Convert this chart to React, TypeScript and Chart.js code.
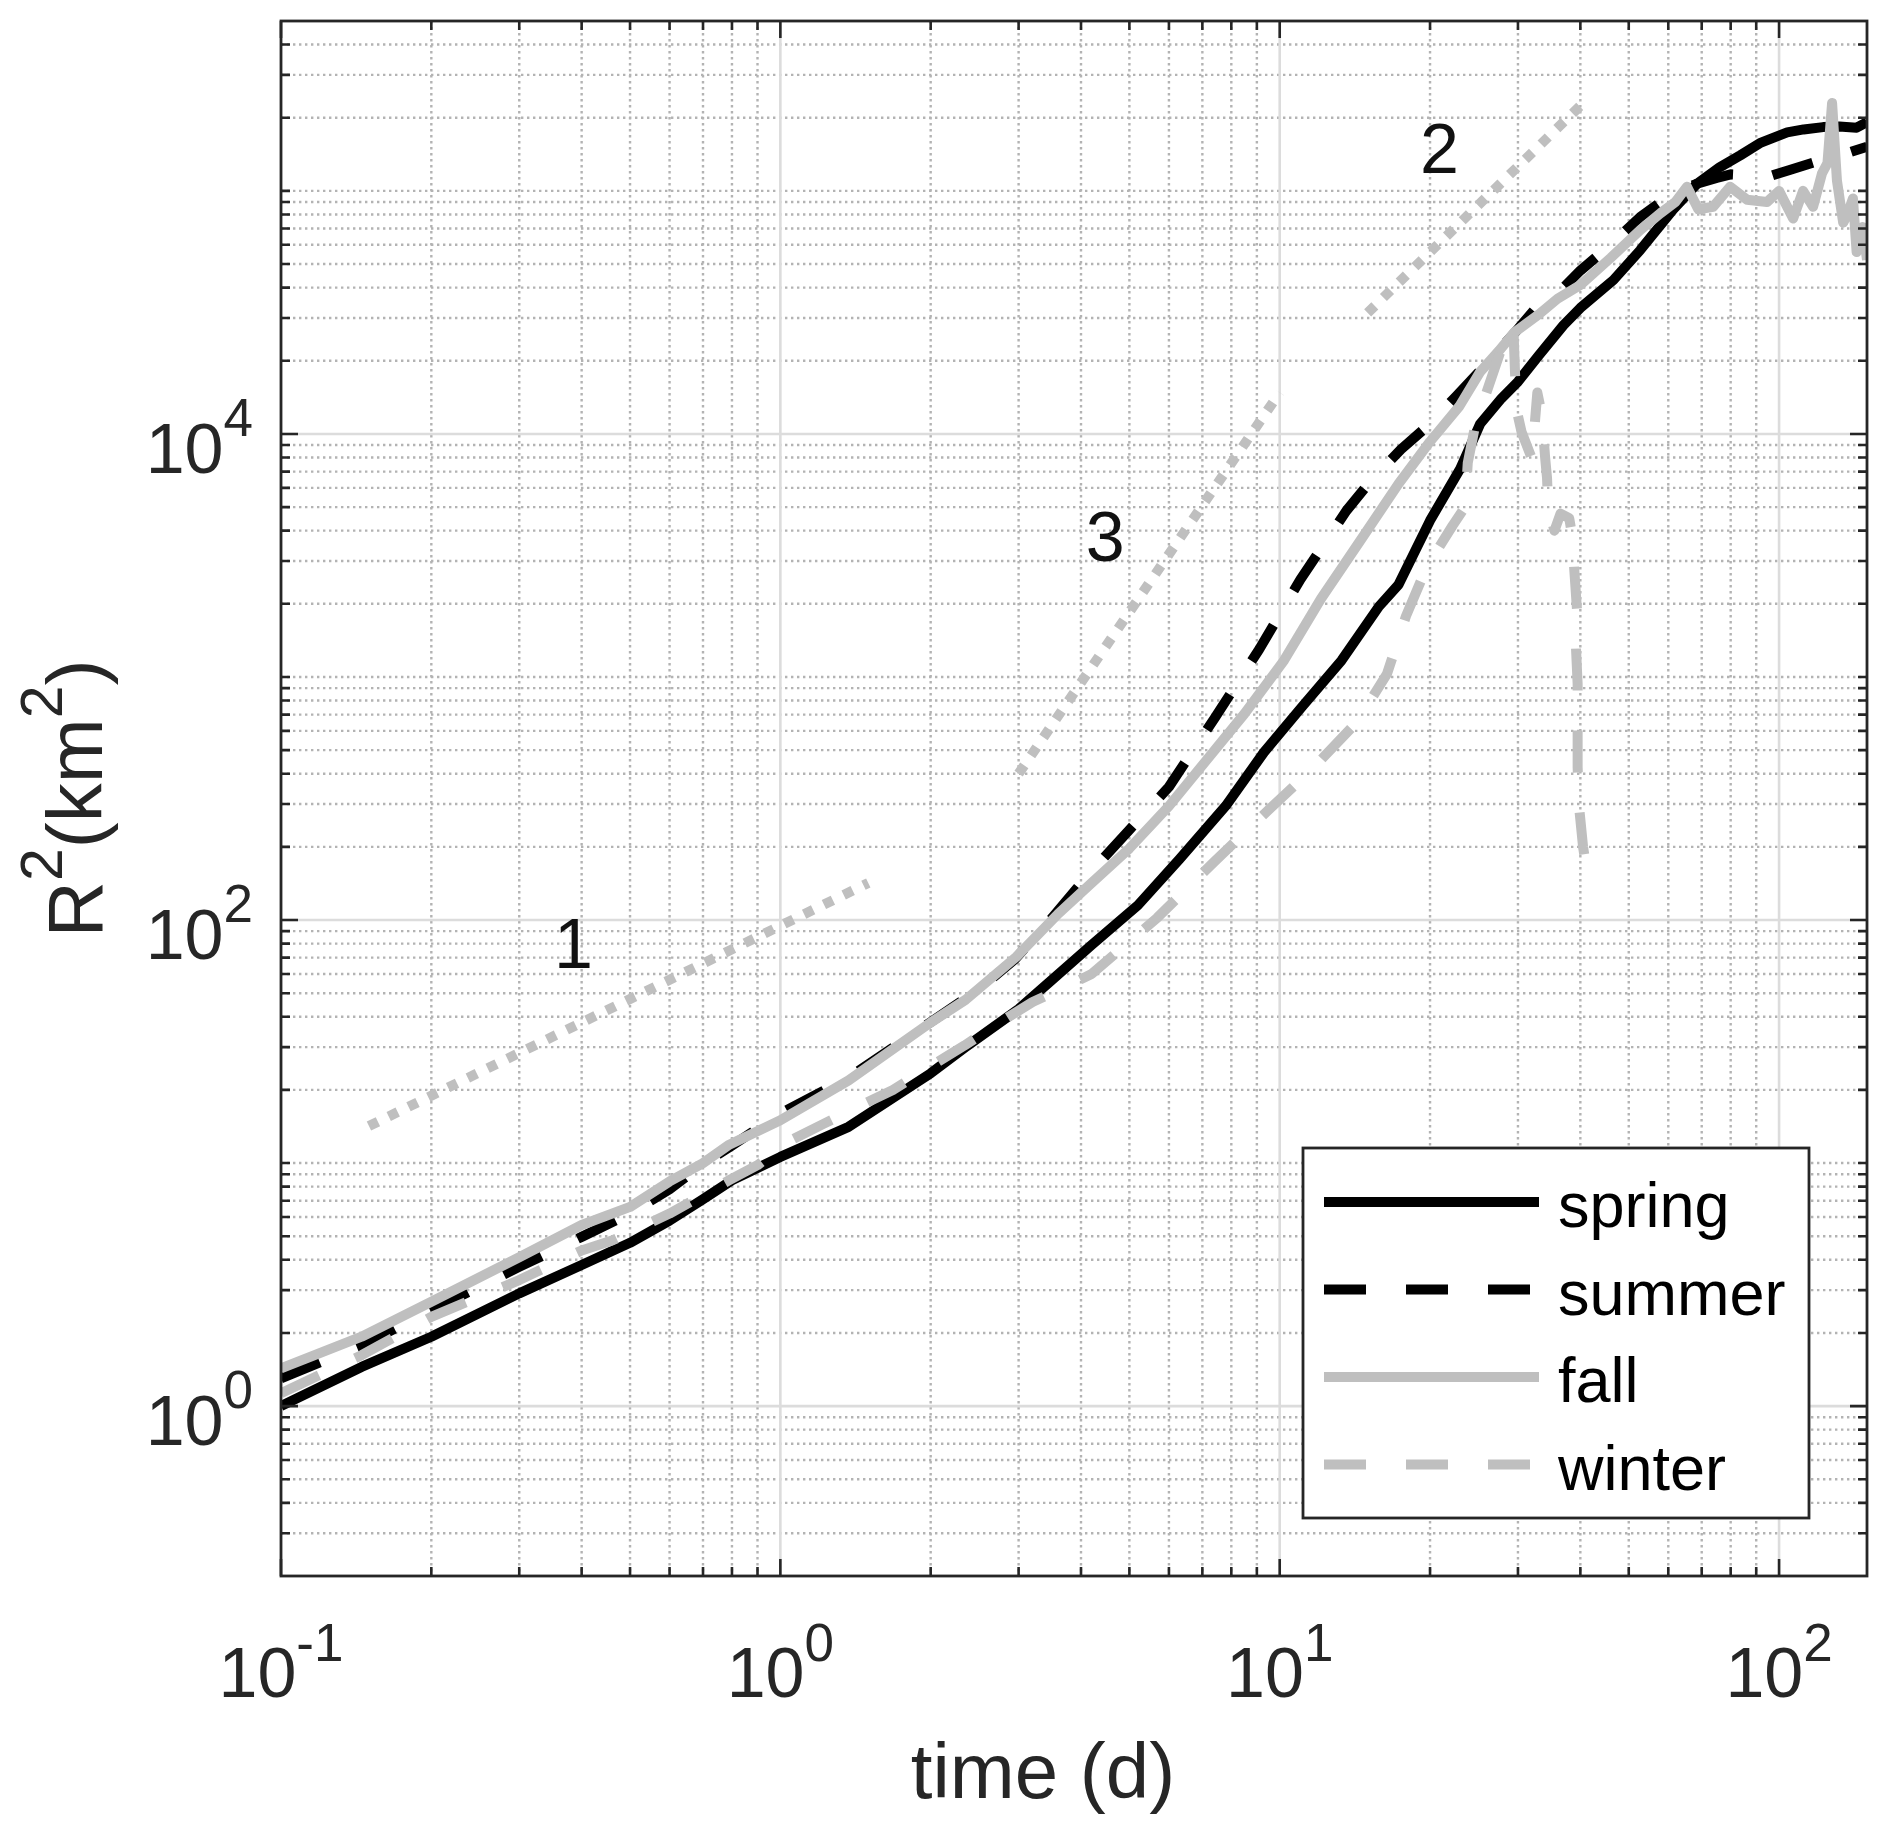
import React, { useEffect, useRef } from "react";
import { Chart, registerables } from "chart.js";

Chart.register(...registerables);

const FONT = '"Liberation Sans", Arial, Helvetica, sans-serif';
const AXIS_COLOR = "#262626";
const GRAY = "#bfbfbf";
const BLACK = "#000000";

// ---- axis ranges and ticks ----
const X_MIN = 0.1;
const X_MAX = 150;
const Y_MIN = 0.2;
const Y_MAX = 5e5;
const X_MAJOR_TICKS = [0.1, 1, 10, 100];
const X_TICK_EXPONENTS = ["-1", "0", "1", "2"];
const Y_MAJOR_TICKS = [1, 100, 10000];
const Y_TICK_EXPONENTS = ["0", "2", "4"];
const MANTISSAS = [1, 2, 3, 4, 5, 6, 7, 8, 9];
const X_DECADES = [0.1, 1, 10, 100];
const Y_DECADES = [0.1, 1, 10, 100, 1000, 10000, 100000];

// ---- series ----
const SEASONS = ["spring", "summer", "fall", "winter"];

const SPRING_T = [0.1, 0.145, 0.2, 0.3, 0.4, 0.5, 0.6, 0.7, 0.8, 1.0, 1.37, 2.0, 2.35, 3.0, 3.44, 4.2, 5.2, 6.3, 7.8, 9.3, 11.1, 13.3, 15.8, 17.3, 20, 23, 25.2, 27.8, 30, 33, 37, 40, 46.6, 52.7, 61.4, 68.5, 76, 83.6, 92, 103.8, 112, 122.5, 132, 143, 150];
const SPRING_R2 = [1.0, 1.45, 1.93, 2.91, 3.81, 4.7, 5.8, 7.1, 8.5, 10.6, 14.1, 23.4, 30, 43, 55, 79, 115, 178, 295, 490, 757, 1170, 1950, 2400, 4400, 7200, 11000, 14000, 16400, 21000, 28000, 33000, 43000, 57000, 84000, 107000, 125000, 140000, 158000, 174000, 179000, 183000, 184000, 182000, 192000];

const SUMMER_T = [0.1, 0.145, 0.2, 0.3, 0.4, 0.5, 0.6, 0.7, 0.8, 1.0, 1.37, 2.0, 2.5, 2.95, 3.5, 4.13, 5.0, 6.0, 7.4, 9.1, 11.0, 13.6, 15.3, 17.5, 20, 22.5, 26, 30, 33, 37, 40, 46, 52.7, 61.4, 68.5, 75, 80, 87.5, 94.6, 105, 119, 137, 150];
const SUMMER_R2 = [1.3, 1.78, 2.48, 3.74, 4.97, 6.2, 7.8, 9.9, 11.8, 16, 22.5, 38, 52, 69, 102, 153, 235, 353, 675, 1300, 2520, 4830, 6500, 8650, 11000, 14200, 19500, 27000, 34000, 40000, 47000, 60000, 78000, 98000, 107000, 113000, 117000, 116000, 114000, 122000, 132000, 143000, 152000];

const FALL_T = [0.1, 0.145, 0.2, 0.3, 0.4, 0.5, 0.6, 0.7, 0.79, 1.0, 1.37, 1.99, 2.35, 2.97, 3.6, 4.2, 5.0, 6.0, 7.15, 8.5, 10.2, 12.1, 14.5, 17.3, 20, 22.9, 25.2, 27.5, 29.4, 33, 36, 40, 46, 52.7, 57.9, 62, 65.4, 68.9, 73.8, 79.8, 86.3, 94.6, 100, 106.7, 111.7, 117, 121.9, 125, 127.7, 130.6, 134.4, 137, 140.6, 143, 147, 150];
const FALL_R2 = [1.43, 1.93, 2.69, 4.1, 5.56, 6.6, 8.4, 10, 11.9, 15, 21.9, 37.6, 47, 70.6, 106, 142, 197, 294, 457, 706, 1170, 2100, 3640, 6240, 9300, 13000, 18000, 22000, 26000, 31000, 36000, 41000, 53000, 69000, 81000, 90000, 104000, 84000, 86000, 104000, 92000, 90000, 100000, 77000, 100000, 86000, 118000, 130000, 230000, 110000, 74000, 80000, 93000, 56000, 71000, 52000];

const WINTER_T = [0.1, 0.145, 0.2, 0.3, 0.4, 0.46, 0.6, 0.79, 0.9, 1.04, 1.22, 1.47, 1.68, 2.0, 2.34, 2.7, 3.2, 3.72, 4.2, 5.68, 7.4, 9.5, 11.6, 14.3, 16.4, 17.9, 19.2, 20.3, 22.2, 23.5, 23.8, 24.6, 26.0, 27.7, 28.5, 29.4, 29.6, 29.8, 30.5, 32.0, 32.8, 33.5, 34.0, 34.3, 34.5, 35.5, 36.5, 38.0, 38.8, 38.8, 39.5, 39.2, 39.5, 39.5, 39.5, 39.8, 40.5, 41.2, 41.6];
const WINTER_R2 = [1.13, 1.62, 2.33, 3.3, 4.37, 4.8, 6.2, 8.5, 9.8, 12.3, 14.5, 17.5, 20, 25, 30.5, 37, 46, 53, 60, 102, 174, 284, 417, 655, 1030, 1780, 2500, 3130, 4200, 5000, 7600, 10700, 15000, 22000, 28000, 26000, 17700, 12600, 10200, 7900, 14800, 12000, 8000, 6600, 5000, 4000, 4700, 4500, 3500, 2970, 1730, 1320, 935, 610, 425, 287, 200, 160, 130];

// reference power-law slopes (1, 2, 3)
const REF1_T = [0.15, 1.5];
const REF1_R2 = [14.2, 142];
const REF2_T = [15, 40];
const REF2_R2 = [31500, 224000];
const REF3_T = [3, 10];
const REF3_R2 = [400, 14800];
const REF_LABELS = ["1", "2", "3"];
const REF_LABEL_T = [0.385, 20.9, 4.47];
const REF_LABEL_R2 = [76, 142000, 3595];

const toPoints = (t: number[], r: number[]) => t.map((v, i) => ({ x: v, y: r[i] }));

const isMajor = (v: number, majors: number[]) => majors.some((m) => Math.abs(v / m - 1) < 1e-6);

const X_MINOR_TICKS = X_DECADES.flatMap((d) => MANTISSAS.map((m) => m * d)).filter(
  (v) => v > X_MIN * 1.0001 && v < X_MAX * 0.9999 && !isMajor(v, X_MAJOR_TICKS)
);
const Y_MINOR_TICKS = Y_DECADES.flatMap((d) => MANTISSAS.map((m) => m * d)).filter(
  (v) => v > Y_MIN * 1.0001 && v < Y_MAX * 0.9999 && !isMajor(v, Y_MAJOR_TICKS)
);

const axesPlugin = {
  id: "matlabAxes",
  beforeDatasetsDraw(chart: any) {
    const { ctx, chartArea: a, scales } = chart;
    const x = scales.x;
    const y = scales.y;
    ctx.save();
    // minor dotted grid
    ctx.lineWidth = 2.4;
    ctx.strokeStyle = "#b3b3b3";
    ctx.setLineDash([2.4, 3.6]);
    ctx.beginPath();
    X_MINOR_TICKS.forEach((v) => {
      const px = x.getPixelForValue(v);
      ctx.moveTo(px, a.top);
      ctx.lineTo(px, a.bottom);
    });
    Y_MINOR_TICKS.forEach((v) => {
      const py = y.getPixelForValue(v);
      ctx.moveTo(a.left, py);
      ctx.lineTo(a.right, py);
    });
    ctx.stroke();
    // major solid grid
    ctx.setLineDash([]);
    ctx.strokeStyle = "#dcdcdc";
    ctx.lineWidth = 2.6;
    ctx.beginPath();
    X_MAJOR_TICKS.forEach((v) => {
      if (v <= X_MIN * 1.0001 || v >= X_MAX) return;
      const px = x.getPixelForValue(v);
      ctx.moveTo(px, a.top);
      ctx.lineTo(px, a.bottom);
    });
    Y_MAJOR_TICKS.forEach((v) => {
      if (v <= Y_MIN || v >= Y_MAX) return;
      const py = y.getPixelForValue(v);
      ctx.moveTo(a.left, py);
      ctx.lineTo(a.right, py);
    });
    ctx.stroke();
    ctx.restore();
  },
  afterDatasetsDraw(chart: any) {
    const { ctx, chartArea: a, scales } = chart;
    const x = scales.x;
    const y = scales.y;
    ctx.save();
    ctx.setLineDash([]);
    // ticks (inward, all four sides)
    ctx.strokeStyle = AXIS_COLOR;
    ctx.lineWidth = 2.6;
    ctx.beginPath();
    const xt = (v: number, len: number) => {
      const px = x.getPixelForValue(v);
      ctx.moveTo(px, a.bottom);
      ctx.lineTo(px, a.bottom - len);
      ctx.moveTo(px, a.top);
      ctx.lineTo(px, a.top + len);
    };
    const yt = (v: number, len: number) => {
      const py = y.getPixelForValue(v);
      ctx.moveTo(a.left, py);
      ctx.lineTo(a.left + len, py);
      ctx.moveTo(a.right, py);
      ctx.lineTo(a.right - len, py);
    };
    X_MINOR_TICKS.forEach((v) => xt(v, 9));
    X_MAJOR_TICKS.forEach((v) => xt(v, 17));
    Y_MINOR_TICKS.forEach((v) => yt(v, 9));
    Y_MAJOR_TICKS.forEach((v) => yt(v, 17));
    ctx.stroke();
    // box
    ctx.lineWidth = 2.8;
    ctx.strokeRect(a.left, a.top, a.right - a.left, a.bottom - a.top);

    // tick labels
    ctx.fillStyle = AXIS_COLOR;
    ctx.textBaseline = "alphabetic";
    const mainFont = `70px ${FONT}`;
    const supFont = `53px ${FONT}`;
    X_MAJOR_TICKS.forEach((v, i) => {
      const px = x.getPixelForValue(v);
      ctx.font = mainFont;
      const w10 = ctx.measureText("10").width;
      ctx.font = supFont;
      const we = ctx.measureText(X_TICK_EXPONENTS[i]).width;
      const start = px - (w10 + we) / 2;
      ctx.textAlign = "left";
      ctx.font = mainFont;
      ctx.fillText("10", start, a.bottom + 121);
      ctx.font = supFont;
      ctx.fillText(X_TICK_EXPONENTS[i], start + w10, a.bottom + 85);
    });
    Y_MAJOR_TICKS.forEach((v, i) => {
      const py = y.getPixelForValue(v);
      const right = a.left - 28;
      ctx.textAlign = "right";
      ctx.font = supFont;
      const we = ctx.measureText(Y_TICK_EXPONENTS[i]).width;
      ctx.fillText(Y_TICK_EXPONENTS[i], right, py + 2);
      ctx.font = mainFont;
      ctx.fillText("10", right - we, py + 39);
    });

    // x title
    ctx.font = `78px ${FONT}`;
    ctx.textAlign = "center";
    ctx.fillText("time (d)", (a.left + a.right) / 2 - 31, a.bottom + 222);

    // y title R^2(km^2)
    const parts: [string, boolean][] = [["R", false], ["2", true], ["(km", false], ["2", true], [")", false]];
    const big = `78px ${FONT}`;
    const small = `59px ${FONT}`;
    let total = 0;
    parts.forEach(([s, sup]) => {
      ctx.font = sup ? small : big;
      total += ctx.measureText(s).width;
    });
    ctx.save();
    ctx.translate(102, (a.top + a.bottom) / 2);
    ctx.rotate(-Math.PI / 2);
    ctx.textAlign = "left";
    let cx = -total / 2;
    parts.forEach(([s, sup]) => {
      ctx.font = sup ? small : big;
      ctx.fillText(s, cx, sup ? -40 : 0);
      cx += ctx.measureText(s).width;
    });
    ctx.restore();

    // slope annotations
    ctx.font = `70px ${FONT}`;
    ctx.fillStyle = "#111111";
    ctx.textAlign = "center";
    ctx.textBaseline = "middle";
    REF_LABELS.forEach((s, i) => {
      ctx.fillText(s, x.getPixelForValue(REF_LABEL_T[i]), y.getPixelForValue(REF_LABEL_R2[i]));
    });
    ctx.restore();
  },
  afterDraw(chart: any) {
    const { ctx, chartArea: a } = chart;
    const bw = 506;
    const bh = 370;
    const bx = a.right - 58 - bw;
    const by = a.bottom - 58 - bh;
    ctx.save();
    ctx.fillStyle = "#ffffff";
    ctx.fillRect(bx, by, bw, bh);
    ctx.strokeStyle = AXIS_COLOR;
    ctx.lineWidth = 2.8;
    ctx.setLineDash([]);
    ctx.strokeRect(bx, by, bw, bh);
    const items = chart.data.datasets.filter((d: any) => SEASONS.includes(d.label));
    items.forEach((d: any, i: number) => {
      const ry = by + 54 + i * 87.5;
      ctx.beginPath();
      ctx.strokeStyle = d.borderColor;
      ctx.lineWidth = d.borderWidth;
      ctx.lineCap = "butt";
      ctx.setLineDash(d.borderDash || []);
      ctx.moveTo(bx + 21, ry);
      ctx.lineTo(bx + 236, ry);
      ctx.stroke();
      ctx.setLineDash([]);
      ctx.fillStyle = "#000000";
      ctx.font = `63px ${FONT}`;
      ctx.textAlign = "left";
      ctx.textBaseline = "alphabetic";
      ctx.fillText(d.label, bx + 255, ry + 25);
    });
    ctx.restore();
  },
};

const DASH = [42, 40];
const DOT = [10, 12];

export default function App() {
  const ref = useRef<HTMLCanvasElement>(null);
  useEffect(() => {
    const line = (label: string, t: number[], r: number[], color: string, dash: number[], order: number, width = 10) => ({
      label,
      data: toPoints(t, r),
      showLine: true,
      borderColor: color,
      backgroundColor: color,
      borderWidth: width,
      borderDash: dash,
      borderCapStyle: "butt",
      borderJoinStyle: "round",
      pointRadius: 0,
      pointHoverRadius: 0,
      tension: 0,
      order,
    });
    const chart = new Chart(ref.current as HTMLCanvasElement, {
      type: "scatter",
      data: {
        datasets: [
          line("spring", SPRING_T, SPRING_R2, BLACK, [], 4),
          line("summer", SUMMER_T, SUMMER_R2, BLACK, DASH, 3),
          line("fall", FALL_T, FALL_R2, GRAY, [], 2),
          line("winter", WINTER_T, WINTER_R2, GRAY, DASH, 1),
          line("slope 1", REF1_T, REF1_R2, GRAY, DOT, 6, 10),
          line("slope 2", REF2_T, REF2_R2, GRAY, DOT, 6, 10),
          line("slope 3", REF3_T, REF3_R2, GRAY, DOT, 6, 10),
        ] as any,
      },
      options: {
        animation: false,
        responsive: false,
        devicePixelRatio: 1,
        layout: { padding: { left: 281, top: 21, right: 25, bottom: 258 } },
        plugins: { legend: { display: false }, tooltip: { enabled: false } },
        scales: {
          x: { type: "logarithmic", min: X_MIN, max: X_MAX, display: false },
          y: { type: "logarithmic", min: Y_MIN, max: Y_MAX, display: false },
        },
      } as any,
      plugins: [axesPlugin as any],
    });
    return () => chart.destroy();
  }, []);
  return (
    <div style={{ position: "absolute", left: 0, top: 0, width: 1892, height: 1834, background: "#ffffff" }}>
      <canvas ref={ref} width={1892} height={1834} style={{ display: "block" }} />
    </div>
  );
}
